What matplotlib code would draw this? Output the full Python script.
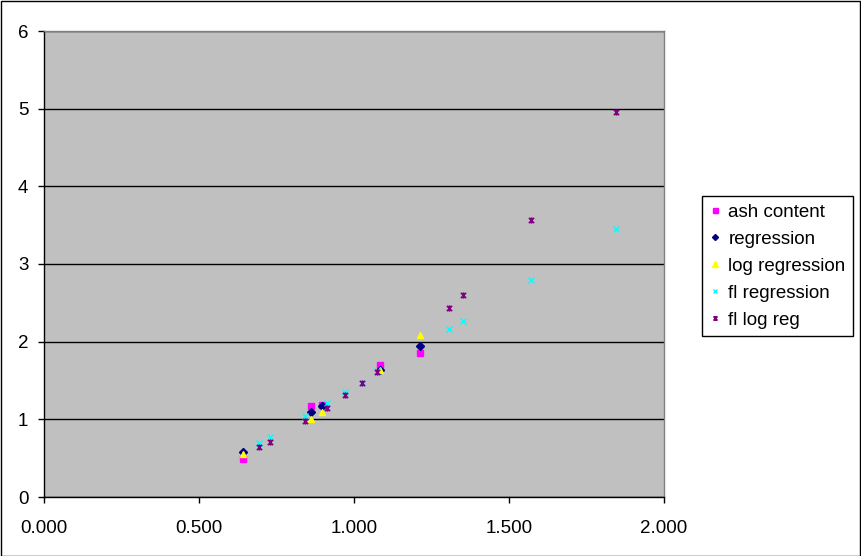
import matplotlib
matplotlib.use("Agg")
import matplotlib.pyplot as plt
from matplotlib.path import Path
from matplotlib.patches import Rectangle

plt.rcParams['font.family'] = ['Liberation Sans', 'DejaVu Sans']

# Data
ash_x = [0.642, 0.861, 0.897, 1.084, 1.213]
ash_y = [0.489, 1.172, 1.184, 1.700, 1.854]
reg_y = [0.580, 1.094, 1.172, 1.640, 1.944]
logreg_y = [0.554, 1.004, 1.094, 1.635, 2.086]

fl_x = [0.694, 0.729, 0.842, 0.913, 0.971, 1.026, 1.074, 1.306, 1.352, 1.571, 1.845]
fl_reg_y = [0.695, 0.773, 1.043, 1.210, 1.352, 1.468, 1.620, 2.163, 2.266, 2.794, 3.450]
fl_logreg_y = [0.644, 0.708, 0.979, 1.146, 1.313, 1.468, 1.610, 2.433, 2.600, 3.566, 4.957]

x_ticks = [0.0, 0.5, 1.0, 1.5, 2.0]
y_ticks = [0, 1, 2, 3, 4, 5, 6]

fig = plt.figure(figsize=(8.61, 5.56), dpi=100)
ax = fig.add_axes([44/861, 1-497/556, (664-44)/861, (497-31)/556])
ax.set_facecolor('#C0C0C0')

star = Path([(-1, -1), (1, 1), (-1, 1), (1, -1), (0, -1.2), (0, 1.2)],
            [Path.MOVETO, Path.LINETO, Path.MOVETO, Path.LINETO, Path.MOVETO, Path.LINETO])

ax.plot(ash_x, ash_y, linestyle='none', marker='s', markersize=4.5,
        color='#FF00FF', markeredgecolor='#FF00FF', label='ash content', zorder=3)
ax.plot(ash_x, reg_y, linestyle='none', marker='D', markersize=3.8,
        color='#000080', markeredgecolor='#000080', label='regression', zorder=3)
ax.plot(ash_x, logreg_y, linestyle='none', marker='^', markersize=5,
        color='#FFFF00', markeredgecolor='#FFFF00', label='log regression', zorder=3)
ax.plot(fl_x, fl_reg_y, linestyle='none', marker='x', markersize=4, markeredgewidth=1,
        color='#00FFFF', label='fl regression', zorder=3)
ax.plot(fl_x, fl_logreg_y, linestyle='none', marker=star, markersize=4.5, markeredgewidth=1.2,
        color='#800080', markerfacecolor='none', label='fl log reg', zorder=3)

ax.set_xlim(0, 2)
ax.set_ylim(0, 6)
ax.set_xticks(x_ticks)
ax.set_xticklabels([f"{v:.3f}" for v in x_ticks])
ax.set_yticks(y_ticks)
ax.set_yticklabels([str(v) for v in y_ticks])

ax.yaxis.grid(True, color='black', linewidth=1)
ax.set_axisbelow(True)

for s in ['top', 'right']:
    ax.spines[s].set_color('#808080')
    ax.spines[s].set_linewidth(1)
for s in ['left', 'bottom']:
    ax.spines[s].set_color('black')
    ax.spines[s].set_linewidth(1)

ax.tick_params(axis='both', direction='out', length=4.3, width=1, color='black',
               labelsize=13.5, labelcolor='black')
ax.tick_params(axis='y', pad=7)
ax.tick_params(axis='x', pad=12)

leg = fig.legend(loc='upper left', bbox_to_anchor=(702/861, 1-196/556),
                 frameon=True, fancybox=False, edgecolor='black', framealpha=1,
                 fontsize=13.5, handlelength=0.6, handletextpad=0.4,
                 labelspacing=0.53, borderpad=0.4, borderaxespad=0,
                 markerscale=0.8)
leg.get_frame().set_linewidth(1)

fig.patches.append(Rectangle((0.5/861, 0.5/556), 1-1.5/861, 1-1.5/556,
                             transform=fig.transFigure, fill=False,
                             edgecolor='black', linewidth=1))

fig.savefig('out.png', dpi=100, facecolor='white')
